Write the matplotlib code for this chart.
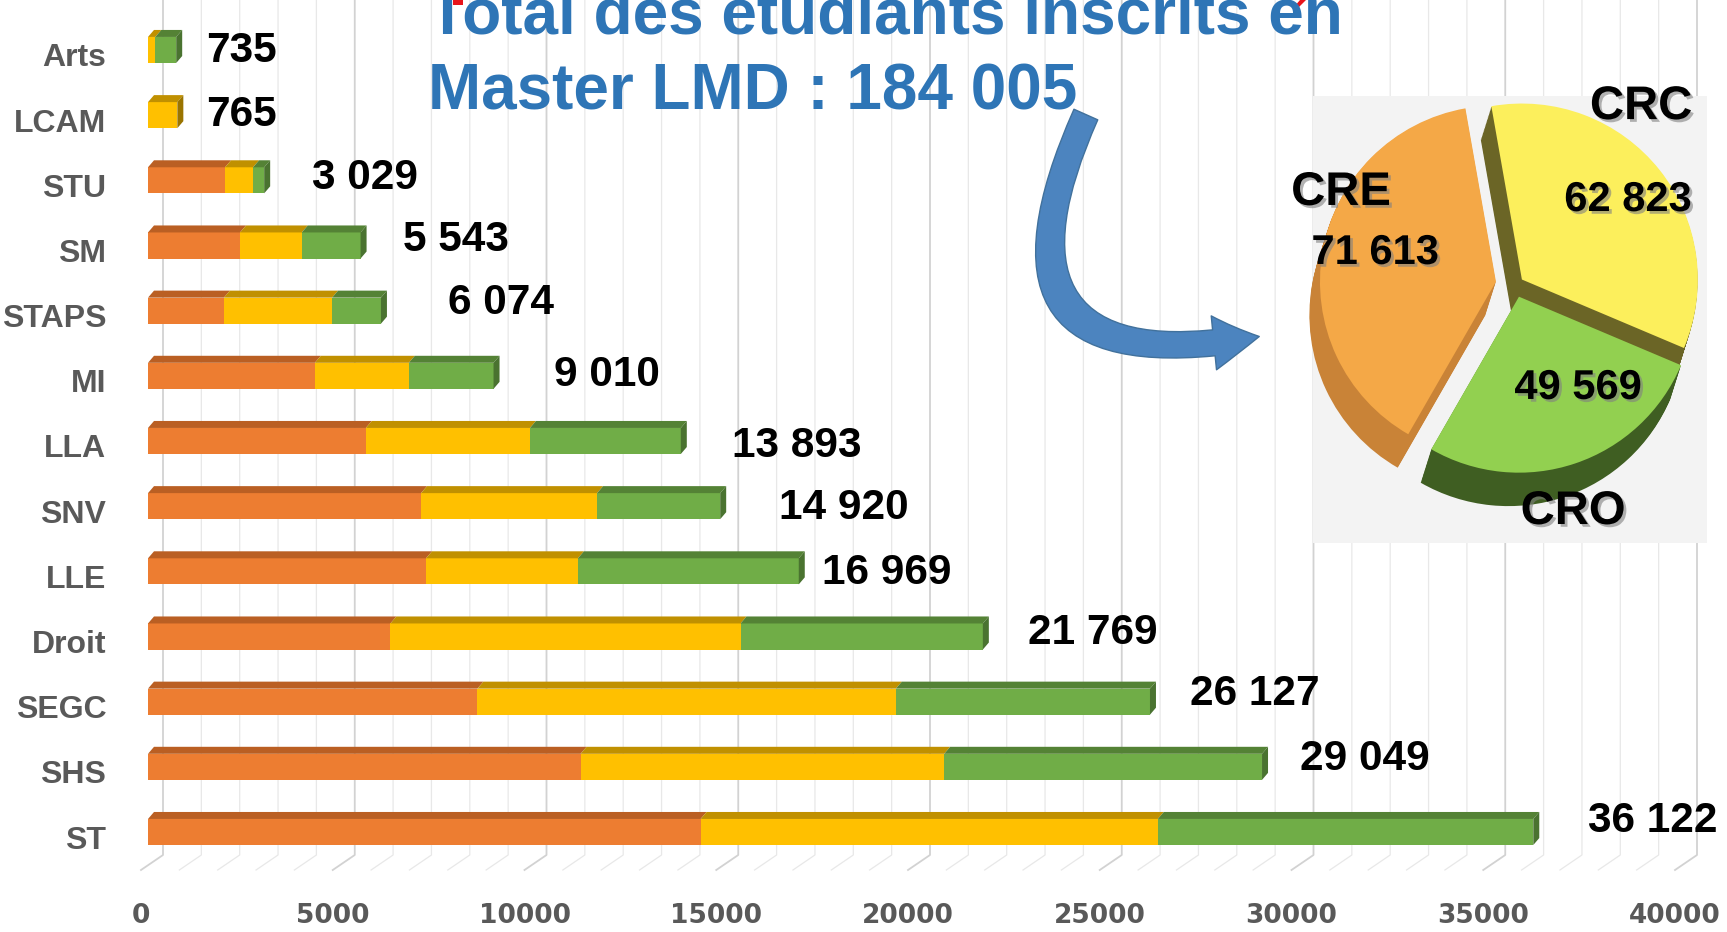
import numpy as np
import matplotlib.pyplot as plt
from matplotlib.patches import Polygon, FancyArrowPatch
from matplotlib.transforms import ScaledTranslation
import matplotlib.patheffects as pe

# Data

filieres = ['Arts', 'LCAM', 'STU', 'SM', 'STAPS', 'MI', 'LLA',
            'SNV', 'LLE', 'Droit', 'SEGC', 'SHS', 'ST']
totaux = [735, 765, 3029, 5543, 6074, 9010, 13893,
          14920, 16969, 21769, 26127, 29049, 36122]
part_orange = [0, 0, 2010, 2400, 1980, 4350, 5680,
               7120, 7250, 6320, 8590, 11280, 14410]
part_jaune = [190, 765, 730, 1610, 2820, 2450, 4280,
              4590, 3960, 9130, 10910, 9480, 11920]
part_vert = [545, 0, 289, 1533, 1274, 2210, 3933,
             3210, 5759, 6319, 6627, 8289, 9792]

regions = ['CRC', 'CRO', 'CRE']
effectifs_region = [62823, 49569, 71613]

# label placement (pixels): gap after bar end, vertical shift (neg = up)
lab_dx = [30, 29, 48, 42, 67, 60, 51, 59, 23, 45, 40, 38, 55]
lab_dy = [-3, -4, -6, -9, -12, -5, 1, -2, -2, -8, -12, -12, -15]

W, H = 1727, 932
fig = plt.figure(figsize=(W / 100, H / 100), dpi=100)
fig.patch.set_facecolor('white')

ax = fig.add_axes([148 / W, 62 / H, 1534 / W, 870 / H])
ytop, ybot = -0.767, 12.583
ax.set_xlim(0, 40000)
ax.set_ylim(ybot, ytop)
dxp = 40000 / 1534          # data units per pixel, x
dyp = (ybot - ytop) / 870   # data units per pixel, y

for s in ax.spines.values():
    s.set_visible(False)

# grid on the back wall + floor lines
for v in range(0, 40001, 1000):
    major = v % 5000 == 0
    xs = [v + 15 * dxp, v + 15 * dxp, v - 7 * dxp]
    ys = [ytop, ytop + 855 * dyp, ytop + 870 * dyp]
    ax.plot(xs, ys, color='#D2D2D2' if major else '#E8E8E8',
            lw=1.3 if major else 0.9, zorder=0, clip_on=False)

# 3D-like stacked bars
h = 0.40
ddx, ddy = 6 * dxp, 7 * dyp
front = ['#ED7D31', '#FFC000', '#70AD47']
top = ['#BA5F23', '#C09000', '#548235']
side = ['#A34E1C', '#9A7400', '#4A7330']
parts = [part_orange, part_jaune, part_vert]
y = np.arange(len(filieres))

for i in range(len(filieres)):
    left = 0
    last = None
    for k in range(3):
        w = parts[k][i]
        if w == 0:
            continue
        ax.barh(y[i], w, left=left, height=h, color=front[k], zorder=3)
        yt = y[i] - h / 2
        ax.add_patch(Polygon([(left, yt), (left + w, yt),
                              (left + w + ddx, yt - ddy), (left + ddx, yt - ddy)],
                             closed=True, facecolor=top[k], edgecolor='none', zorder=3))
        left += w
        last = k
    yt, yb = y[i] - h / 2, y[i] + h / 2
    ax.add_patch(Polygon([(left, yt), (left, yb),
                          (left + ddx, yb - ddy), (left + ddx, yt - ddy)],
                         closed=True, facecolor=side[last], edgecolor='none', zorder=3))

# value labels
for i, tot in enumerate(totaux):
    txt = '{:,}'.format(tot).replace(',', ' ')
    ax.annotate(txt, xy=(tot, y[i]), xytext=(lab_dx[i], -(lab_dy[i] + 15)),
                textcoords='offset pixels', ha='left', va='baseline',
                fontsize=30.5, fontweight='bold', family='Liberation Sans',
                color='black', zorder=5, annotation_clip=False)

ax.set_yticks(y)
ax.set_yticklabels(filieres, fontsize=23, fontweight='bold',
                   family='Liberation Sans', color='#595959')
ax.set_xticks(np.arange(0, 40001, 5000))
ax.set_xticklabels([str(v) for v in range(0, 40001, 5000)], fontsize=19,
                   fontweight='bold', family='DejaVu Sans', color='#595959')
ax.tick_params(axis='y', length=0, pad=30)
ax.tick_params(axis='x', length=0, pad=24)
for lab in ax.get_yticklabels():
    lab.set_transform(lab.get_transform() + ScaledTranslation(0, -0.05, fig.dpi_scale_trans))
for lab in ax.get_xticklabels():
    lab.set_transform(lab.get_transform() + ScaledTranslation(-0.07, 0, fig.dpi_scale_trans))

# title
fig.text(428 / W, 1 - 33 / H, 'Total des étudiants inscrits en',
         fontsize=46, fontweight='bold', family='Liberation Sans',
         color='#2E75B6', ha='left', va='baseline')
fig.text(428 / W, 1 - 110 / H, 'Master LMD : 184 005',
         fontsize=46, fontweight='bold', family='Liberation Sans',
         color='#2E75B6', ha='left', va='baseline')

# little red bits cut by the top edge
for pts in ([(453, 0), (463, 0), (463, 5), (453, 5)],
            [(1294, 7), (1300, 0), (1306, 0), (1299, 7)]):
    fig.patches.append(Polygon([(px / W, 1 - py / H) for px, py in pts],
                               closed=True, transform=fig.transFigure,
                               facecolor='#E8141B', edgecolor='none'))

# pie inset
pax = fig.add_axes([1313 / W, 1 - 543 / H, 394 / W, 447 / H])
pie_top = ['#FCEF5C', '#92D050', '#F4A847']
pie_side = ['#6B6526', '#3F5E22', '#C98337']
explode = [0.05, 0.07, 0.11]
depth = 0.19
for t in np.linspace(1, 0.03, 26):
    pax.pie(effectifs_region, center=(-0.06 * t, -depth * t), radius=1,
            startangle=100, counterclock=False, explode=explode,
            colors=pie_side, wedgeprops=dict(linewidth=0))
pax.pie(effectifs_region, center=(0, 0), radius=1, startangle=100,
        counterclock=False, explode=explode, colors=pie_top,
        wedgeprops=dict(linewidth=0))
pax.set_aspect('auto')
pax.set_xlim(-1.148, 1.091)
pax.set_ylim(-1.466, 1.074)
pax.set_frame_on(True)
pax.set_facecolor('#F3F3F3')
for s in pax.spines.values():
    s.set_visible(False)
pax.set_xticks([])
pax.set_yticks([])

shadow = [pe.SimplePatchShadow(offset=(2, -2), shadow_rgbFace='#808080', alpha=0.6),
          pe.Normal()]
pie_txt = [('CRC', 0.716, 1.011, 34), ('62 823', 0.642, 0.483, 30),
           ('CRE', -0.989, 0.523, 34), ('71 613', -0.795, 0.182, 30),
           ('49 569', 0.358, -0.585, 30), ('CRO', 0.330, -1.290, 34)]
for t, px, py, fs in pie_txt:
    pax.text(px, py, t, fontsize=fs, fontweight='bold', family='Liberation Sans',
             ha='center', va='center', color='black', path_effects=shadow,
             clip_on=False, zorder=10)

# curved arrow towards the pie
arrow = FancyArrowPatch((1087 / W, 1 - 112 / H), (1262 / W, 1 - 336 / H),
                        transform=fig.transFigure,
                        connectionstyle='arc3,rad=0.95',
                        arrowstyle='simple,head_width=2.6,head_length=2.2,tail_width=1.25',
                        mutation_scale=15, facecolor='#4C84BF',
                        edgecolor='#41719C', lw=1)
fig.patches.append(arrow)

fig.savefig('out.png', dpi=100)
